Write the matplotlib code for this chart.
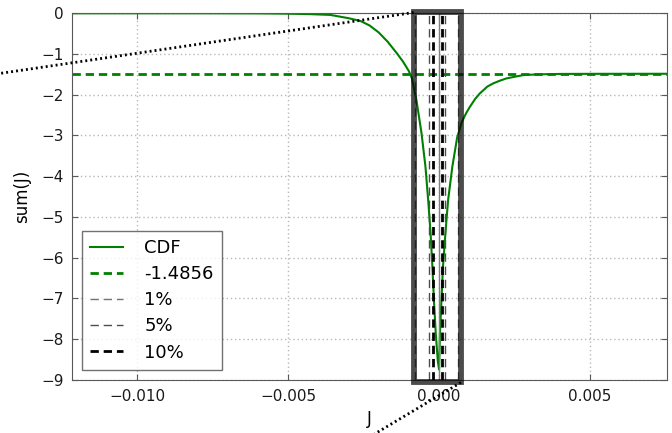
import matplotlib
matplotlib.use('Agg')
import matplotlib.pyplot as plt
from matplotlib.patches import Rectangle
from matplotlib.lines import Line2D

# curve
J = [-0.0122, -0.008, -0.006, -0.005, -0.0043, -0.0036, -0.0033, -0.0030, -0.0026,
     -0.0023, -0.0020, -0.0017, -0.0014, -0.0012, -0.0010, -0.0009, -0.00075,
     -0.00058, -0.00045, -0.00036, -0.00028, -0.00022, -0.00017, -0.00011,
     -0.00004, 0.0,
     0.00003, 0.00008, 0.00013, 0.00021, 0.00030, 0.00044, 0.00060, 0.00075,
     0.00090, 0.00102, 0.00120, 0.00135, 0.00160, 0.00180, 0.0020, 0.00223,
     0.0025, 0.00278, 0.0030, 0.00333, 0.004, 0.0053, 0.0076]
cdf = [0, 0, -0.003, -0.01, -0.02, -0.04, -0.08, -0.12, -0.19,
       -0.3, -0.47, -0.7, -0.98, -1.18, -1.42, -1.6, -2.13,
       -2.95, -3.77, -4.59, -5.41, -6.23, -7.04, -7.86,
       -8.55, -8.75,
       -7.86, -7.04, -6.23, -5.41, -4.59, -3.77, -3.05, -2.68,
       -2.45, -2.30, -2.1, -1.97, -1.8, -1.72, -1.66, -1.60,
       -1.56, -1.52, -1.51, -1.50, -1.49, -1.487, -1.486]
level = -1.4856
q1 = [-0.000805, 0.000629]
q5 = [-0.000331, 0.000212]
q10 = [-0.000199, 0.0001]
box_x = [-0.00084, 0.000725]
box_y = [-9.07, 0.02]

plt.rcParams['lines.scale_dashes'] = False
plt.rcParams['font.family'] = 'DejaVu Sans'

fig = plt.figure(figsize=(6.72, 4.33), dpi=100)
ax = fig.add_axes([0.1071, 0.1233, 0.8854, 0.846])

ax.plot(J, cdf, color='green', lw=1.5, label='CDF')
ax.axhline(level, color='green', lw=2, ls=(0, (6, 3.5)), label=str(level))
ax.axvline(0, color='0.5', lw=1)
for qs, c, w, name in [(q1, '0.45', 1, '1%'), (q5, '0.3', 1, '5%'), (q10, 'k', 2, '10%')]:
    for i, q in enumerate(qs):
        ax.axvline(q, color=c, lw=w, ls=(0, (6, 3.5)), label=name if i == 0 else None)

rect = Rectangle((box_x[0], box_y[0]), box_x[1] - box_x[0], box_y[1] - box_y[0],
                 fill=False, edgecolor='k', alpha=0.7, lw=4.2, clip_on=False, zorder=5)
ax.add_patch(rect)

ax.set_xlim(-0.01216, 0.00755)
ax.set_ylim(-9, 0)

# connector lines of the zoom box, leading out of the figure
fig.canvas.draw()
to_fig = ax.transData + fig.transFigure.inverted()
ax_to_fig = ax.transAxes + fig.transFigure.inverted()
for xy, xyb in [((box_x[0], box_y[1]), (-0.3, 0.793)), ((box_x[1], box_y[0]), (0.383, -0.27))]:
    p0 = to_fig.transform(xy)
    p1 = ax_to_fig.transform(xyb)
    fig.add_artist(Line2D([p0[0], p1[0]], [p0[1], p1[1]], transform=fig.transFigure,
                          color='k', lw=2, ls=(0, (1.4, 2.2)), zorder=6))

ax.set_xticks([-0.010, -0.005, 0.0, 0.005])
ax.set_xticklabels(['\u22120.010', '\u22120.005', '0.000', '0.005'])
ax.set_yticks(range(-9, 1))
ax.grid(True, color='0.72', lw=1, ls=(0, (1, 2)))
ax.set_axisbelow(True)
ax.tick_params(direction='in', top=True, right=True, length=4, labelsize=11, colors='0.35',
               labelcolor='0.1')
ax.tick_params(axis='x', pad=7)
ax.tick_params(axis='y', pad=6)
for s in ax.spines.values():
    s.set_color('0.35')
ax.set_xlabel('J', fontsize=12)
ax.set_ylabel('sum(J)', fontsize=12, labelpad=7)

leg = ax.legend(loc='lower left', fontsize=13, fancybox=False, handlelength=1.8,
                handletextpad=1.2, borderpad=0.45, borderaxespad=0.55, labelspacing=0.45)
leg.get_frame().set_edgecolor('0.3')
leg.get_frame().set_linewidth(1)

fig.savefig('out.png', dpi=100)
